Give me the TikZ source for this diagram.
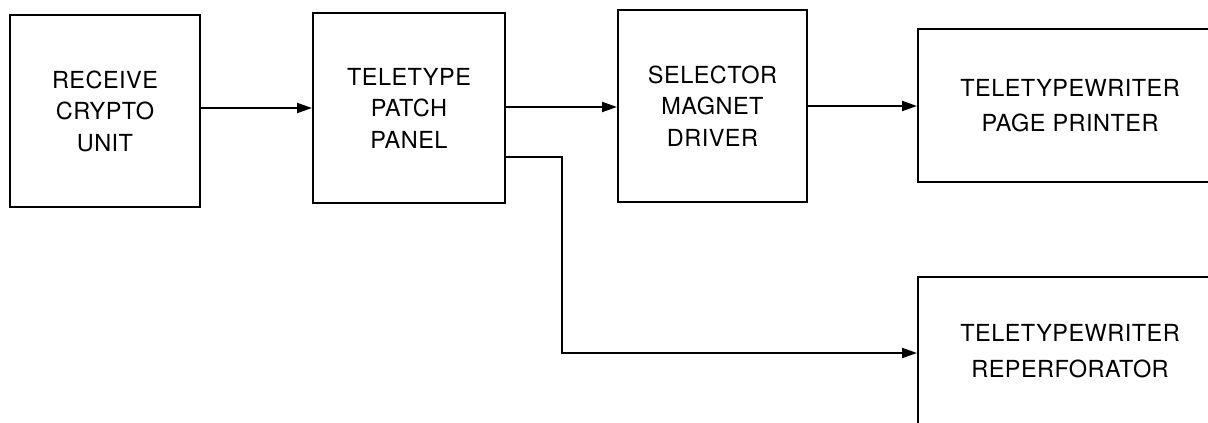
\documentclass[tikz,border=0pt]{standalone}
\usepackage{fontspec}
\setmainfont[LetterSpace=2]{TeX Gyre Heros}
\usetikzlibrary{arrows.meta}
\begin{document}
\begin{tikzpicture}[x=1pt,y=-1pt,
  blk/.style={draw, line width=2pt, rectangle, inner sep=0pt, align=center,
    font=\fontsize{23.5}{31.5}\selectfont},
  arr/.style={line width=2pt, -{Triangle[length=15pt,width=10pt]}},
  ln/.style={line width=2pt}]
\useasboundingbox (0,0) rectangle (1208,423);
\clip (0,0) rectangle (1208,423);
\node[blk, minimum width=190pt, minimum height=192pt] (b1) at (105,111) {RECEIVE\\CRYPTO\\UNIT};
\node[blk, minimum width=192pt, minimum height=190pt] (b2) at (409,108) {TELETYPE\\PATCH\\PANEL};
\node[blk, minimum width=189pt, minimum height=192pt] (b3) at (712.5,106) {SELECTOR\\MAGNET\\DRIVER};
\node[blk, minimum width=304pt, minimum height=153pt, font=\fontsize{23.5}{35}\selectfont] (b4) at (1070,105.5) {TELETYPEWRITER\\PAGE PRINTER};
\node[blk, minimum width=304pt, minimum height=148pt, font=\fontsize{23.5}{36}\selectfont] (b5) at (1070,351) {TELETYPEWRITER\\REPERFORATOR};
\coordinate (k1) at (562,157);
\coordinate (k2) at (562,353);
\draw[arr] (b1.east |- 0,108) -- (b2.west |- 0,108);
\draw[arr] (b2.east |- 0,107) -- (b3.west |- 0,107);
\draw[arr] (b3.east |- 0,106) -- (b4.west |- 0,106);
\draw[arr] (b2.east |- k1) -- (k1) -- (k2) -- (b5.west |- k2);
\end{tikzpicture}
\end{document}
